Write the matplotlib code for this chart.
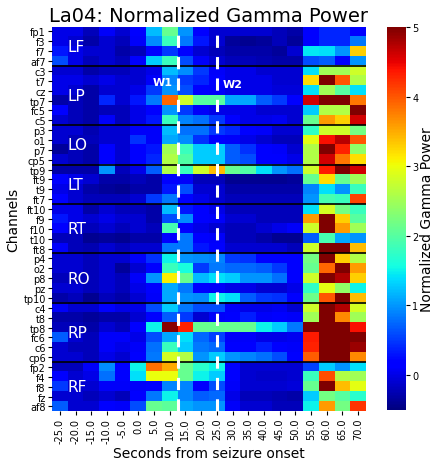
import matplotlib
matplotlib.use("Agg")
import matplotlib.pyplot as plt
import numpy as np

seconds = [-25, -20, -15, -10, -5, 0, 5, 10, 15, 20, 25, 30, 35, 40, 45, 50, 55, 60, 65, 70]
tick_labels = [f"{s:.1f}" for s in seconds]

group_names = ["LF", "LP", "LO", "LT", "RT", "RO", "RP", "RF"]
lf_channels = ["fp1", "f3", "f7", "af7"]
lp_channels = ["c3", "t7", "cz", "tp7", "fc5", "c5"]
lo_channels = ["p3", "o1", "p7", "cp5"]
lt_channels = ["tp9", "ft9", "t9", "ft7"]
rt_channels = ["ft10", "f9", "f10", "t10", "ft8"]
ro_channels = ["p4", "o2", "p8", "pz", "tp10"]
rp_channels = ["c4", "t8", "tp8", "fc6", "c6", "cp6"]
rf_channels = ["fp2", "f4", "f8", "fz", "af8"]

# normalized gamma power, one row per channel, one value per 5 s window
lf_power = [
    [0.0, 0.0, -0.2, 0.1, -0.1, 0.2, 1.2, 2.1, 1.0, 0.2, -0.1, -0.1, -0.1, -0.1, -0.2, -0.3, 0.2, 0.4, 0.4, 0.2],
    [0.0, -0.1, -0.3, -0.1, -0.2, 0.1, 0.95, 1.8, 0.85, 0.3, -0.1, -0.35, -0.4, -0.35, -0.2, -0.35, 0.2, 0.4, 0.4, 0.85],
    [0.3, 0.0, -0.1, -0.1, -0.3, -0.2, 0.2, 0.5, 0.2, -0.1, -0.2, -0.3, -0.3, -0.3, -0.35, -0.1, 1.45, 1.4, 1.0, 3.3],
    [0.6, 0.0, -0.2, -0.1, -0.2, 0.2, 1.3, 1.8, 0.6, 0.1, -0.1, -0.2, -0.2, -0.25, -0.3, -0.3, 0.6, 0.7, 0.2, 1.0],
]
lp_power = [
    [-0.1, -0.1, -0.3, -0.2, -0.2, -0.1, 0.0, 1.2, 0.95, 0.5, 0.1, 0.0, 0.0, -0.1, -0.1, -0.1, 1.4, 2.5, 2.5, 2.8],
    [0.0, 0.0, -0.1, 0.0, -0.1, -0.1, 0.1, 0.9, 0.5, 0.4, 0.2, 0.0, 0.0, 0.0, -0.1, -0.1, 3.2, 5.0, 4.0, 2.6],
    [0.0, -0.1, -0.3, -0.1, -0.1, 0.0, 0.5, 1.0, 0.6, 0.2, 0.1, 0.0, 0.0, 0.0, -0.05, -0.05, 1.4, 2.5, 2.0, 1.4],
    [-0.3, -0.2, -0.3, 0.4, -0.1, 0.3, 0.85, 3.9, 2.8, 2.0, 2.0, 1.1, 1.1, 0.7, 0.5, 0.2, 4.6, 5.0, 5.0, 3.8],
    [0.2, -0.2, -0.3, -0.2, -0.2, 0.0, 0.2, 1.0, 0.5, 0.1, 0.0, 0.0, 0.0, -0.1, -0.1, -0.1, 1.3, 2.6, 2.6, 5.0],
    [-0.1, -0.2, -0.3, 0.1, -0.2, 0.0, 0.3, 1.8, 0.9, 0.8, 0.5, 0.2, 0.0, 0.0, 0.05, -0.1, 2.1, 3.6, 3.3, 4.6],
]
lo_power = [
    [-0.1, -0.1, -0.25, -0.1, -0.1, 0.1, 0.1, 1.2, 0.8, 0.8, 0.5, 0.4, 0.2, 0.1, -0.1, -0.1, 1.75, 2.8, 2.8, 2.2],
    [-0.1, -0.2, -0.2, -0.1, -0.1, 0.45, 0.1, 1.1, 0.95, 0.45, 0.2, 0.1, 0.0, -0.1, -0.2, -0.2, 2.95, 4.4, 4.7, 4.0],
    [-0.35, -0.2, -0.3, 0.2, -0.1, 0.2, 0.3, 2.5, 1.8, 1.3, 1.3, 0.7, 0.45, 0.2, 0.1, -0.1, 2.6, 5.0, 4.3, 2.4],
    [-0.1, -0.2, -0.3, 0.2, -0.1, 0.2, 0.4, 2.6, 1.95, 1.3, 1.3, 0.7, 0.6, 0.2, 0.15, 0.0, 2.6, 4.6, 3.8, 3.2],
]
lt_power = [
    [-0.3, -0.3, -0.3, 1.0, -0.2, 0.0, 0.7, 2.6, 1.8, 2.8, 3.4, 2.1, 1.95, 1.4, 1.0, 0.8, 2.8, 4.35, 5.0, 4.6],
    [0.2, 0.0, -0.1, -0.3, -0.3, -0.2, -0.3, 0.2, 0.1, -0.2, -0.2, -0.4, -0.4, -0.4, -0.4, -0.35, 2.1, 3.2, 2.1, 2.5],
    [0.0, -0.1, -0.3, -0.35, -0.4, -0.3, -0.3, 0.3, 0.6, -0.1, -0.1, -0.3, -0.3, -0.3, -0.3, -0.3, 0.9, 1.4, 1.0, 1.8],
    [0.2, -0.1, -0.2, -0.2, -0.2, -0.1, 0.5, 0.85, 0.2, 0.0, -0.1, -0.2, -0.2, -0.2, -0.2, -0.2, 1.0, 1.9, 1.8, 4.1],
]
rt_power = [
    [0.0, 0.0, -0.3, -0.1, -0.2, -0.2, -0.3, 1.2, 0.3, 0.2, 0.0, -0.2, -0.2, -0.2, -0.2, -0.2, 1.4, 2.85, 2.2, 1.8],
    [0.3, 0.0, -0.1, 0.0, -0.1, -0.1, -0.3, 0.6, 0.95, 0.2, 0.1, -0.1, -0.1, -0.2, -0.2, -0.2, 3.6, 5.0, 3.3, 2.0],
    [0.2, -0.1, -0.2, -0.1, -0.2, -0.1, -0.2, 1.9, 0.2, 0.0, -0.1, -0.2, -0.2, -0.1, 0.0, 0.1, 2.8, 5.0, 3.6, 2.5],
    [-0.2, -0.2, -0.4, -0.35, -0.4, -0.3, -0.3, 0.2, 0.85, 0.2, 0.1, -0.2, -0.2, -0.3, -0.4, -0.4, 0.7, 1.9, 1.1, 1.0],
    [0.1, -0.2, -0.25, -0.1, -0.2, -0.1, -0.1, 0.85, 0.85, 0.3, 0.2, -0.1, -0.1, -0.1, -0.1, -0.2, 2.8, 5.0, 5.0, 3.4],
]
ro_power = [
    [-0.1, -0.1, -0.2, -0.1, -0.1, 0.1, 0.45, 1.5, 1.0, 0.95, 0.9, 0.5, 0.45, 0.2, 0.2, 0.2, 2.2, 5.0, 3.3, 2.6],
    [-0.1, -0.1, -0.2, -0.1, -0.35, -0.1, 0.2, 1.8, 1.6, 0.5, 0.85, 0.75, 0.75, 0.7, 0.5, 0.2, 2.1, 3.9, 5.0, 3.6],
    [-0.2, -0.2, -0.2, -0.1, -0.2, 0.1, 1.0, 3.1, 2.1, 1.2, 1.4, 1.3, 1.0, 1.0, 0.8, 0.2, 2.8, 5.0, 4.75, 3.3],
    [-0.1, -0.1, -0.2, -0.1, -0.2, 0.0, 0.2, 1.1, 0.85, 0.2, 0.1, 0.0, 0.0, -0.1, -0.1, 0.0, 1.75, 2.95, 2.4, 1.5],
    [-0.3, -0.2, -0.4, -0.2, -0.3, -0.1, 0.1, 1.1, 1.0, 0.95, 1.5, 1.4, 0.7, 0.5, 0.45, 0.15, 2.15, 4.0, 5.0, 3.4],
]
rp_power = [
    [0.1, -0.1, -0.1, 0.2, 0.0, 0.0, 0.6, 1.3, 0.85, 0.6, 0.6, 0.1, 0.0, 0.0, 0.05, -0.1, 2.8, 5.0, 4.75, 2.85],
    [-0.3, -0.3, -0.35, -0.3, -0.3, -0.1, 0.2, 0.7, 0.5, -0.1, 0.1, 0.2, 0.35, 0.1, 0.15, 0.1, 2.5, 5.0, 3.7, 2.5],
    [-0.2, -0.2, -0.3, -0.1, -0.2, 0.2, 1.5, 4.95, 4.3, 2.1, 2.1, 2.1, 2.1, 1.5, 1.3, 0.85, 5.0, 5.0, 5.0, 4.4],
    [0.7, -0.1, -0.2, 0.1, 0.1, 0.0, 0.6, 1.1, 1.4, 0.75, 0.55, 0.1, 0.1, 0.0, 0.0, 0.05, 4.35, 5.0, 5.0, 5.0],
    [-0.1, -0.2, -0.2, 0.1, 0.0, 0.1, 0.8, 1.8, 1.3, 0.85, 0.75, 0.2, 0.2, 0.35, 0.2, 0.1, 4.3, 5.0, 5.0, 4.85],
    [-0.1, -0.1, -0.2, 0.0, -0.1, 0.2, 0.85, 2.85, 2.6, 1.0, 1.3, 1.0, 0.9, 0.8, 0.6, 0.2, 3.95, 5.0, 5.0, 3.7],
]
rf_power = [
    [-0.2, -0.2, 0.1, 0.95, 0.2, 1.5, 3.85, 3.5, 2.1, 1.7, 1.5, 0.2, -0.1, -0.1, -0.1, -0.1, 0.55, 1.3, 1.0, 1.4],
    [0.2, -0.1, 0.0, 0.8, 0.2, 1.4, 3.0, 3.0, 2.1, 1.5, 1.3, 0.2, -0.1, -0.15, -0.15, -0.1, 1.8, 4.05, 2.6, 2.5],
    [0.5, -0.1, -0.1, 0.1, 0.1, 0.1, 0.2, 0.9, 0.9, 0.2, 0.6, 0.1, -0.1, -0.1, -0.1, -0.05, 2.1, 5.0, 3.4, 2.95],
    [-0.1, -0.1, -0.2, -0.1, -0.2, 0.2, 0.85, 1.5, 0.9, 0.7, 0.75, 0.0, -0.2, -0.2, -0.25, -0.3, 1.3, 2.2, 2.0, 1.7],
    [0.7, -0.1, -0.1, 0.2, 0.1, 0.6, 2.1, 2.05, 1.1, 1.0, 1.0, 0.1, -0.1, -0.1, -0.2, -0.2, 1.5, 3.6, 2.2, 4.2],
]

# window markers (in seconds)
w1_start = 12.5
w2_start = 25.0


def main():
    groups = [lf_channels, lp_channels, lo_channels, lt_channels,
              rt_channels, ro_channels, rp_channels, rf_channels]
    powers = [lf_power, lp_power, lo_power, lt_power,
              rt_power, ro_power, rp_power, rf_power]
    channels = [ch for g in groups for ch in g]
    data = np.vstack([np.array(p) for p in powers])

    fig = plt.figure(figsize=(4.3, 4.6), dpi=100)
    ax = fig.add_axes([0.121, 0.1035, 0.730, 0.8367])
    cax = fig.add_axes([0.899, 0.107, 0.045, 0.832])

    im = ax.imshow(data, cmap="jet", vmin=-0.5, vmax=5, aspect="auto",
                   interpolation="nearest")
    for s in ax.spines.values():
        s.set_visible(False)

    ax.set_xticks(np.arange(len(seconds)))
    ax.set_xticklabels(tick_labels, rotation=90, fontsize=7)
    ax.set_yticks(np.arange(len(channels)))
    ax.set_yticklabels(channels, fontsize=7)
    ax.tick_params(length=3, width=0.8, pad=1.5)

    # group separators and labels
    start = 0
    for name, g in zip(group_names, groups):
        if start > 0:
            ax.axhline(start - 0.5, color="black", linewidth=1.2)
        ax.text(0.5, start + (len(g) - 1) / 2, name, color="white",
                fontsize=11, ha="left", va="center")
        start += len(g)

    # window lines (convert seconds to column position)
    step = seconds[1] - seconds[0]
    for w in (w1_start, w2_start):
        x = (w - seconds[0]) / step
        ax.axvline(x, color="white", linewidth=2.2, linestyle=(0, (4, 3)))
    ax.text(7.2, 5.15, "W1", color="white", fontsize=8, fontweight="bold",
            ha="right", va="center")
    ax.text(10.4, 5.3, "W2", color="white", fontsize=8, fontweight="bold",
            ha="left", va="center")

    ax.set_title("La04: Normalized Gamma Power", fontsize=14, pad=4)
    ax.set_xlabel("Seconds from seizure onset", fontsize=10, labelpad=2)
    ax.set_ylabel("Channels", fontsize=10, labelpad=2)

    cb = fig.colorbar(im, cax=cax)
    cb.outline.set_visible(False)
    cb.set_ticks([0, 1, 2, 3, 4, 5])
    cb.ax.tick_params(labelsize=7, length=3, width=0.8, pad=1.5)
    cb.set_label("Normalized Gamma Power", fontsize=10, labelpad=1)

    fig.savefig("out.png", dpi=100)


if __name__ == "__main__":
    main()
